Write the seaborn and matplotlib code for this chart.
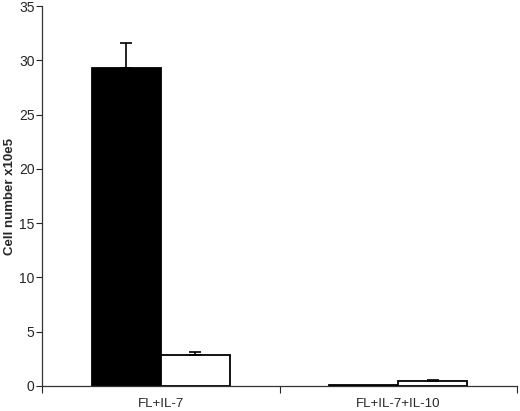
import seaborn as sns
import matplotlib.pyplot as plt
import pandas as pd

# values
conditions = ['FL+IL-7', 'FL+IL-7+IL-10']
series = ['A', 'B']
values_a = [29.3, 0.05]
values_b = [2.85, 0.45]
err_a = [2.3, 0.0]
err_b = [0.25, 0.1]

df = pd.DataFrame({
    'condition': conditions * 2,
    'series': [series[0]] * 2 + [series[1]] * 2,
    'value': values_a + values_b,
})
errs = err_a + err_b

sns.set_style('white')
plt.rcParams['font.family'] = ['Liberation Sans', 'DejaVu Sans']

fig = plt.figure(figsize=(5.2, 4.11), dpi=100)
ax = fig.add_axes([0.081, 0.061, 0.913, 0.924])

sns.barplot(data=df, x='condition', y='value', hue='series', order=conditions,
            hue_order=series, palette=['black', 'white'], width=0.58,
            edgecolor='black', linewidth=1.3, legend=False, ax=ax)

# one-sided error bars, drawn at each bar's centre
for p, e in zip(ax.patches, errs):
    if e > 0:
        xc = p.get_x() + p.get_width() / 2
        ax.errorbar(xc, p.get_height(), yerr=[[0], [e]], fmt='none',
                    ecolor='black', elinewidth=1.2, capsize=4, capthick=1.2)

ax.set_ylim(0, 35)
ax.set_xlim(-0.5, 1.5)
ax.set_yticks(range(0, 36, 5))
ax.set_ylabel('Cell number x10e5', fontsize=9.5, fontweight='bold')
ax.yaxis.set_label_coords(-0.055, 0.5)
ax.set_xlabel('')
ax.tick_params(axis='y', direction='out', length=4, width=0.8, pad=1.5,
               labelsize=10, left=True)
ax.tick_params(axis='x', which='major', length=0, pad=9, labelsize=9.5)
ax.set_xticks([-0.5, 0.5, 1.5], minor=True)
ax.tick_params(axis='x', which='minor', direction='out', length=5, width=0.8, bottom=True)

sns.despine(ax=ax)
for s in ['left', 'bottom']:
    ax.spines[s].set_color('#333333')
    ax.spines[s].set_linewidth(0.9)

fig.savefig('out.png', dpi=100)
